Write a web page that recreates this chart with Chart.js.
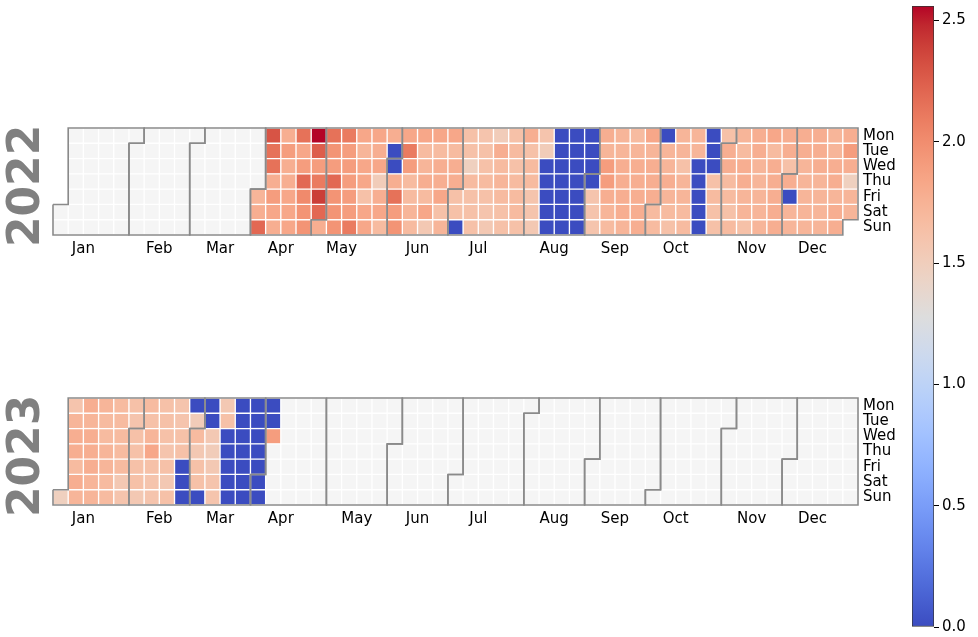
<!DOCTYPE html>
<html><head><meta charset="utf-8">
<script src="https://cdn.jsdelivr.net/npm/chart.js@4.4.1/dist/chart.umd.min.js"></script>
<style>
html,body{margin:0;padding:0;background:#fff;}
#wrap{position:relative;width:978px;height:637px;overflow:hidden;background:#fff;}
canvas{position:absolute;}
</style></head><body>
<div id="wrap">
<canvas id="c2022" width="905" height="151" style="left:0;top:118px;"></canvas>
<canvas id="c2023" width="905" height="151" style="left:0;top:388px;"></canvas>
<canvas id="cbar" width="66" height="637" style="left:912px;top:0;"></canvas>
</div>
<script>
// ---------------- data ----------------
const start2022 = '2022-04-01';
const values2022 = [
  1.73, 1.78, 2.2,
  2.3, 2.15, 2.15, 1.78, 1.9, 1.83, 1.78,
  1.78, 1.9, 1.78, 1.78, 1.83, 1.83, 1.83,
  2.15, 1.83, 1.9, 2.2, 2.02, 1.96, 1.96,
  2.56, 2.25, 1.9, 2.1, 2.4, 2.2, 1.78,
  2.15, 1.96, 1.9, 2.2, 1.96, 1.96, 1.96,
  2.1, 1.9, 1.9, 1.9, 1.9, 1.9, 2.1,
  1.83, 1.73, 1.83, 1.83, 1.63, 1.83, 1.83,
  1.83, 1.78, 1.83, 1.52, 1.78, 1.83, 1.68,
  1.78, 0, 0, 1.78, 2.15, 1.9, 1.96,
  1.83, 2.1, 1.9, 1.68, 1.68, 1.73, 1.68,
  1.83, 1.68, 1.73, 1.78, 1.68, 1.83, 1.56,
  1.83, 1.68, 1.78, 1.78, 1.83, 1.63, 1.73,
  1.83, 1.68, 1.78, 1.78, 1.63, 1.63, 0,
  1.63, 1.63, 1.48, 1.68, 1.63, 1.63, 1.63,
  1.6, 1.63, 1.63, 1.68, 1.63, 1.6, 1.56,
  1.52, 1.78, 1.68, 1.73, 1.68, 1.63, 1.63,
  1.63, 1.68, 1.63, 1.68, 1.68, 1.68, 1.63,
  1.78, 1.63, 1.68, 1.68, 1.6, 1.6, 1.56,
  1.6, 1.52, 0, 0, 0, 0, 0,
  0, 0, 0, 0, 0, 0, 0,
  0, 0, 0, 0, 0, 0, 0,
  0, 0, 0, 0, 1.6, 1.6, 1.6,
  1.78, 1.73, 1.9, 1.9, 1.78, 1.73, 1.68,
  1.73, 1.73, 1.78, 1.78, 1.78, 1.78, 1.73,
  1.68, 1.73, 1.78, 1.78, 1.78, 1.78, 1.78,
  1.83, 1.73, 1.78, 1.78, 1.78, 1.68, 1.68,
  0, 1.73, 1.73, 1.78, 1.73, 1.68, 1.63,
  1.73, 1.73, 1.63, 1.73, 1.73, 1.68, 1.68,
  1.73, 1.73, 0, 0, 0, 0, 0,
  0, 0, 0, 1.63, 1.68, 1.63, 1.63,
  1.63, 1.78, 1.78, 1.68, 1.68, 1.63, 1.68,
  1.73, 1.68, 1.78, 1.78, 1.73, 1.73, 1.63,
  1.78, 1.78, 1.73, 1.73, 1.73, 1.73, 1.73,
  1.83, 1.68, 1.78, 1.78, 1.78, 1.78, 1.78,
  1.78, 1.78, 1.63, 1.78, 0, 1.73, 1.73,
  1.78, 1.78, 1.73, 1.73, 1.73, 1.73, 1.73,
  1.78, 1.78, 1.78, 1.73, 1.73, 1.73, 1.73,
  1.73, 1.73, 1.78, 1.78, 1.73, 1.78, 1.78,
  1.78, 1.9, 1.78, 1.48, 1.73, 1.73
];
const start2023 = '2023-01-01';
const values2023 = [
  1.48,
  1.6, 1.73, 1.78, 1.78, 1.68, 1.78, 1.73,
  1.78, 1.73, 1.78, 1.78, 1.78, 1.73, 1.73,
  1.73, 1.68, 1.68, 1.73, 1.73, 1.68, 1.68,
  1.68, 1.68, 1.68, 1.68, 1.68, 1.56, 1.6,
  1.63, 1.6, 1.63, 1.63, 1.63, 1.63, 1.56,
  1.68, 1.63, 1.73, 1.83, 1.63, 1.6, 1.6,
  1.63, 1.63, 1.63, 1.6, 1.63, 1.56, 1.63,
  1.6, 1.6, 1.63, 1.63, 0, 0, 0,
  0, 1.52, 1.68, 1.56, 1.63, 1.63, 0,
  0, 0, 1.56, 1.52, 1.56, 1.6, 1.6,
  1.56, 1.63, 0, 0, 0, 0, 0,
  0, 0, 0, 0, 0, 0, 0,
  0, 0, 0, 0, 0, 0, 0,
  0, 0, 1.9
];
const monthLabels = ['Jan','Feb','Mar','Apr','May','Jun','Jul','Aug','Sep','Oct','Nov','Dec'];
const weekdayLabels = ['Mon','Tue','Wed','Thu','Fri','Sat','Sun'];
const colorbarTicks = [0.0, 0.5, 1.0, 1.5, 2.0, 2.5];
const vmin = 0;
const vmax = Math.max(...values2022, ...values2023);

// ---------------- colormap (matplotlib coolwarm) ----------------
const COOLWARM = [
  [59,76,192],[68,90,204],[77,104,215],[87,117,225],[98,130,234],[108,142,241],[119,154,247],[130,165,251],
  [141,176,254],[152,185,255],[163,194,255],[174,201,253],[184,208,249],[194,213,244],[204,217,238],[213,219,230],
  [221,221,221],[229,216,209],[236,211,197],[241,204,185],[245,196,173],[247,187,160],[247,177,148],[247,166,135],
  [244,154,123],[241,141,111],[236,127,99],[229,112,88],[222,96,77],[213,80,66],[203,62,56],[192,40,47],[180,4,38]
];
function cmapT(t){
  t = Math.max(0, Math.min(1, t));
  const f = t * (COOLWARM.length - 1);
  const i = Math.min(COOLWARM.length - 2, Math.floor(f));
  const u = f - i;
  const a = COOLWARM[i], b = COOLWARM[i+1];
  return 'rgb(' + [0,1,2].map(k => Math.round(a[k] + (b[k]-a[k])*u)).join(',') + ')';
}
function colorFor(v){ return cmapT((v - vmin) / (vmax - vmin)); }
const EMPTY = '#f5f5f5';

Chart.defaults.font.family = "'DejaVu Sans', sans-serif";
Chart.defaults.color = '#000';

const DAY = 864e5;
function buildYear(year, startStr, vals){
  const jan1 = Date.UTC(year, 0, 1);
  const wd0 = (new Date(jan1).getUTCDay() + 6) % 7;
  const [sy, sm, sd] = startStr.split('-').map(Number);
  const startIdx = Math.round((Date.UTC(sy, sm-1, sd) - jan1) / DAY);
  const nDays = Math.round((Date.UTC(year+1, 0, 1) - jan1) / DAY);
  const pos = d => { const p = d + wd0; return [Math.floor(p/7), p % 7]; };
  const cells = [];
  for (let d = 0; d < nDays; d++){
    const [c, r] = pos(d);
    const k = d - startIdx;
    const v = (k >= 0 && k < vals.length) ? vals[k] : null;
    cells.push({x: c + 0.5, y: [r, r+1], v: v});
  }
  const outlines = [], ticks = [];
  for (let m = 0; m < 12; m++){
    const d0 = Math.round((Date.UTC(year, m, 1) - jan1) / DAY);
    const d1 = Math.round((Date.UTC(year, m+1, 1) - jan1) / DAY) - 1;
    const [c0, r0] = pos(d0), [c1, r1] = pos(d1);
    outlines.push([
      {x:c0, y:r0},{x:c0+1, y:r0},{x:c0+1, y:0},{x:c1+1, y:0},{x:c1+1, y:r1+1},
      {x:c1, y:r1+1},{x:c1, y:7},{x:c0, y:7},{x:c0, y:r0}
    ]);
    const d15 = Math.round((Date.UTC(year, m, 15) - jan1) / DAY);
    ticks.push(pos(d15)[0]);
  }
  return {cells, outlines, ticks};
}
const noPad = s => { s.paddingTop = 0; s.paddingBottom = 0; s.paddingLeft = 0; s.paddingRight = 0; };

function makeYearChart(id, year, startStr, vals){
  const Y = buildYear(year, startStr, vals);
  const datasets = Y.outlines.map(o => ({
    type: 'line', data: o, borderColor: '#8a8a8a', borderWidth: 1.6,
    pointRadius: 0, fill: false, tension: 0, clip: false, order: 0,
    borderJoinStyle: 'miter'
  }));
  datasets.push({
    type: 'bar', data: Y.cells, order: 1,
    backgroundColor: ctx => (ctx.raw && ctx.raw.v != null) ? colorFor(ctx.raw.v) : EMPTY,
    borderColor: '#ffffff', borderWidth: 1, borderSkipped: false,
    barPercentage: 1, categoryPercentage: 1
  });
  new Chart(document.getElementById(id), {
    type: 'bar',
    data: { datasets },
    options: {
      responsive: false, animation: false, devicePixelRatio: 1,
      layout: { padding: { top: 10, left: 0, right: 0, bottom: 0 } },
      plugins: { legend: { display: false }, tooltip: { enabled: false } },
      scales: {
        x: {
          type: 'linear', min: 0, max: 53, offset: false,
          grid: { display: false, drawTicks: false }, border: { display: false },
          afterBuildTicks: s => { s.ticks = Y.ticks.map(v => ({ value: v })); },
          ticks: { autoSkip: false, maxRotation: 0, minRotation: 0, padding: 5,
                   font: { size: 15 }, callback: (v, i) => monthLabels[i] },
          afterFit: s => { s.height = 34; noPad(s); }
        },
        y: {
          type: 'linear', min: 0, max: 7, reverse: true, position: 'left',
          grid: { display: false, drawTicks: false }, border: { display: false },
          ticks: { display: false },
          title: { display: true, text: String(year) + '\u2009', color: '#808080',
                   font: { size: 44, weight: 'bold', lineHeight: 1 }, padding: { top: 6, bottom: 0 } },
          afterFit: s => { s.width = 53; noPad(s); }
        },
        y2: {
          type: 'linear', min: 0, max: 7, reverse: true, position: 'right',
          grid: { display: false, drawTicks: false }, border: { display: false },
          afterBuildTicks: s => { s.ticks = weekdayLabels.map((_, i) => ({ value: i + 0.5 })); },
          ticks: { autoSkip: false, padding: 5, font: { size: 15 }, callback: (v, i) => weekdayLabels[i] },
          afterFit: s => { s.width = 47; noPad(s); }
        }
      }
    }
  });
}

makeYearChart('c2022', 2022, start2022, values2022);
makeYearChart('c2023', 2023, start2023, values2023);

// ---------------- colorbar ----------------
new Chart(document.getElementById('cbar'), {
  type: 'bar',
  data: {
    labels: ['cb'],
    datasets: [{
      data: [[vmin, vmax]],
      backgroundColor: ctx => {
        const ch = ctx.chart; const area = ch.chartArea;
        if (!area) return null;
        const y = ch.scales.y;
        const g = ch.ctx.createLinearGradient(0, y.getPixelForValue(vmin), 0, y.getPixelForValue(vmax));
        COOLWARM.forEach((c, i) => g.addColorStop(i / (COOLWARM.length - 1), 'rgb(' + c.join(',') + ')'));
        return g;
      },
      borderColor: '#333', borderWidth: 1, borderSkipped: false,
      barPercentage: 1, categoryPercentage: 1
    }]
  },
  options: {
    responsive: false, animation: false, devicePixelRatio: 1,
    layout: { padding: { top: 6, bottom: 10, left: 0, right: 0 } },
    plugins: { legend: { display: false }, tooltip: { enabled: false } },
    scales: {
      x: { display: false },
      y: {
        type: 'linear', position: 'right', min: vmin, max: vmax,
        afterBuildTicks: s => { s.ticks = colorbarTicks.map(v => ({ value: v })); },
        ticks: { padding: 3, font: { size: 15 }, color: '#000', callback: v => Number(v).toFixed(1) },
        grid: { drawOnChartArea: false, drawTicks: true, tickLength: 5, color: '#000' },
        border: { display: false },
        afterFit: s => { s.width = 44; noPad(s); }
      }
    }
  }
});
</script>
</body></html>
